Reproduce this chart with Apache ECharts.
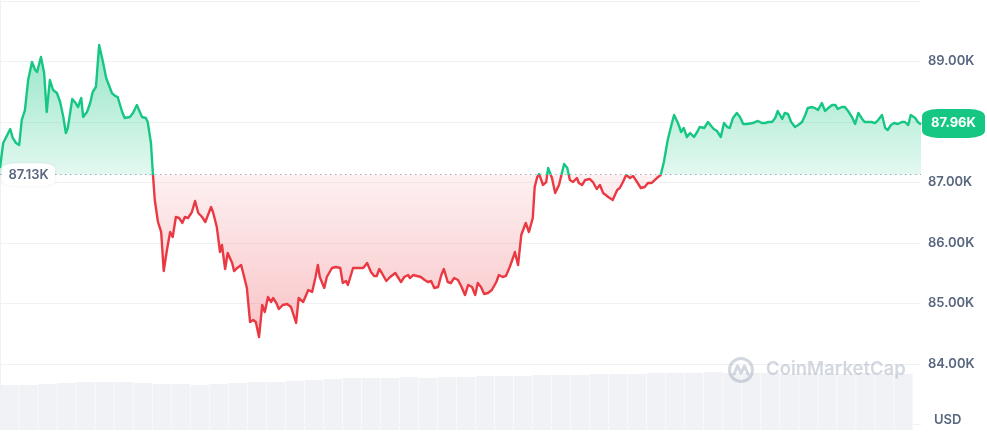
<!DOCTYPE html>
<html>
<head>
<meta charset="utf-8">
<script src="https://cdn.jsdelivr.net/npm/echarts@6/dist/echarts.min.js"></script>
<style>
html,body{margin:0;padding:0;background:#fff;}
#c{width:987px;height:433px;}
</style>
</head>
<body>
<div id="c"></div>
<script>
// minutes since start of the 24h window
const times = [
0,5,9,16,20,25,30,34,39,44,
50,55,58,64,69,73,78,83,89,94,
99,103,106,113,117,122,127,130,136,141,
145,150,155,161,166,169,175,180,184,191,
195,203,208,214,217,222,228,231,236,239,
242,247,252,256,261,266,270,275,280,285,
289,294,300,305,310,316,321,324,330,333,
339,344,347,352,356,363,366,371,377,381,
386,391,396,400,405,410,414,419,424,427,
432,436,442,449,455,458,463,467,474,478,
482,488,493,497,500,507,511,519,525,532,
536,541,544,552,563,568,574,580,585,589,
593,597,604,610,618,622,627,632,638,641,
646,652,658,664,669,674,679,685,690,694,
700,705,710,716,721,727,732,738,743,747,
752,757,763,769,776,780,786,791,797,802,
805,810,815,818,822,827,833,836,840,843,
849,854,857,863,868,874,882,887,891,896,
902,905,910,915,922,927,933,938,943,951,
958,965,969,974,979,985,990,996,1002,1008,
1013,1019,1027,1033,1038,1044,1051,1054,1060,1065,
1069,1074,1079,1085,1090,1094,1101,1107,1112,1116,
1121,1127,1132,1137,1141,1146,1152,1157,1162,1168,
1171,1177,1180,1185,1191,1196,1201,1207,1212,1216,
1223,1227,1232,1237,1243,1248,1254,1259,1263,1270,
1274,1279,1285,1290,1295,1301,1306,1310,1316,1321,
1326,1332,1337,1342,1348,1352,1357,1363,1368,1373,
1379,1384,1388,1393,1398,1404,1410,1415,1420,1424,
1431,1435,1440
];
// price in USD
const prices = [
87240,87653,87736,87884,87736,87653,87620,88033,88198,88694,
88992,88860,88826,89074,88810,88165,88694,88529,88479,88331,
88083,87818,87901,88380,88331,88248,88397,88083,88165,88314,
88496,88579,89273,88992,88727,88694,88479,88430,88413,88165,
88066,88083,88149,88281,88248,88083,88066,88000,87653,87157,
86711,86347,86182,85537,85884,86182,86099,86430,86413,86331,
86430,86413,86512,86694,86496,86430,86347,86331,86595,86512,
86264,85851,85967,85570,85835,85669,85537,85587,85636,85471,
85256,84694,84727,84694,84446,84975,84859,85107,85025,85091,
85008,84909,84975,84992,84942,84843,84678,85091,85025,85124,
85223,85190,85421,85636,85438,85256,85438,85587,85603,85587,
85339,85372,85306,85587,85587,85587,85669,85521,85455,85455,
85570,85504,85372,85438,85504,85438,85355,85438,85471,85421,
85471,85455,85438,85388,85355,85372,85256,85273,85471,85570,
85355,85339,85421,85388,85289,85140,85306,85273,85140,85339,
85273,85157,85174,85223,85355,85471,85438,85455,85603,85752,
85851,85636,86132,86099,86331,86182,86413,86926,87091,87140,
86959,87008,87240,87074,86826,86959,87306,87240,87041,87008,
87074,86992,86959,87041,87058,87008,86893,86959,86826,86760,
86711,86876,86909,87008,87124,87074,87107,87008,86909,86926,
86992,86992,87074,87124,87339,87702,88000,88116,87983,87835,
87901,87752,87818,87752,87835,87917,87901,88000,87934,87884,
87851,87752,87983,87917,87901,88066,88149,88083,87967,87967,
87934,87983,87967,88017,87983,87983,88000,88000,88066,88182,
88050,88149,88132,88000,87917,87950,88000,88116,88231,88248,
88231,88198,88314,88182,88231,88281,88281,88215,88248,88248,
88182,88083,87967,88149,88050,88000,88000,88000,87983,88033,
88116,87901,87868,87950,87983,87967,88000,88000,87950,88116,
88066,88000,87960
];
const openPrice = 87130;
const lastPrice = 87960;
const yTicks = [83000, 84000, 85000, 86000, 87000, 88000, 89000, 90000];
// relative trading volume per 30-minute bucket
const volumes = [
45,45,46,47,48,48,48,47,46,46,
45,46,47,48,48,49,50,51,52,52,
52,53,52,53,53,54,54,54,55,55,
55,56,56,56,57,57,57,58,57,57,
57,56,57,56,56,57,56,56
];

const GREEN = '#16c784', RED = '#ea3943', TXT = '#58667e', GRIDC = '#eff2f5';
const WM = 'rgba(150,162,182,0.42)';
const fmtK = v => (v / 1000).toFixed(2) + 'K';

const lineData = times.map((t, i) => [t, prices[i]]);
const upData = times.map((t, i) => [t, Math.max(prices[i], openPrice)]);
const downData = times.map((t, i) => [t, Math.min(prices[i], openPrice)]);

const chart = echarts.init(document.getElementById('c'), null, {renderer: 'canvas'});
chart.setOption({
  animation: false,
  backgroundColor: '#fff',
  textStyle: {fontFamily: 'Inter, "Noto Sans", sans-serif'},
  grid: [
    {left: 0, right: 66, top: 1, bottom: 8.5},
    {left: 0, right: 74, top: 365, bottom: 3}
  ],
  xAxis: [
    {type: 'value', gridIndex: 0, min: 0, max: 1440, show: false},
    {type: 'category', gridIndex: 1, show: false, data: volumes.map((v, i) => i)}
  ],
  yAxis: [
    {
      type: 'value', gridIndex: 0, position: 'right',
      min: yTicks[0], max: yTicks[yTicks.length - 1], interval: 1000,
      axisLine: {show: true, lineStyle: {color: GRIDC, width: 1}},
      axisTick: {show: false},
      splitLine: {show: true, lineStyle: {color: GRIDC, width: 1}},
      axisLabel: {
        show: true, showMinLabel: false, showMaxLabel: false,
        color: TXT, fontSize: 13, fontWeight: 600, margin: 7,
        fontFamily: 'Inter, sans-serif',
        formatter: fmtK
      }
    },
    {type: 'value', gridIndex: 1, show: false, min: 0, max: 65}
  ],
  series: [
    {
      type: 'bar', name: 'volume', xAxisIndex: 1, yAxisIndex: 1,
      data: volumes, barCategoryGap: '3%', silent: true, z: 0,
      itemStyle: {color: '#f0f2f5'}
    },
    {
      type: 'line', name: 'up', xAxisIndex: 0, yAxisIndex: 0,
      data: upData, symbol: 'none', silent: true, z: 1,
      lineStyle: {width: 0, opacity: 0},
      itemStyle: {color: GREEN},
      areaStyle: {
        origin: openPrice, opacity: 1,
        color: new echarts.graphic.LinearGradient(0, 0, 0, 1, [
          {offset: 0, color: 'rgba(22,199,132,0.45)'},
          {offset: 1, color: 'rgba(22,199,132,0.12)'}
        ])
      }
    },
    {
      type: 'line', name: 'down', xAxisIndex: 0, yAxisIndex: 0,
      data: downData, symbol: 'none', silent: true, z: 1,
      lineStyle: {width: 0, opacity: 0},
      itemStyle: {color: RED},
      areaStyle: {
        origin: openPrice, opacity: 1,
        color: new echarts.graphic.LinearGradient(0, 0, 0, 1, [
          {offset: 0, color: 'rgba(234,57,67,0.07)'},
          {offset: 1, color: 'rgba(234,57,67,0.30)'}
        ])
      }
    },
    {
      type: 'line', name: 'price', xAxisIndex: 0, yAxisIndex: 0,
      data: lineData, symbol: 'none', z: 3,
      lineStyle: {width: 2.4, color: GREEN, join: 'round'},
      itemStyle: {color: GREEN},
      markLine: {
        silent: true, symbol: 'none', label: {show: false},
        lineStyle: {type: [1.5, 3.5], color: '#a3a9b8', width: 1},
        data: [{yAxis: openPrice}]
      },
      markPoint: {
        silent: true, z: 10,
        data: [
          {
            coord: [0, openPrice], symbol: 'roundRect', symbolSize: [53, 23], symbolOffset: [28.5, 0],
            itemStyle: {color: '#ffffff', shadowBlur: 3, shadowColor: 'rgba(88,102,126,0.12)'},
            label: {show: true, formatter: fmtK(openPrice), color: TXT, fontSize: 13, fontWeight: 600, fontFamily: 'Inter, sans-serif'}
          },
          {
            coord: [1440, lastPrice], symbol: 'roundRect', symbolSize: [63, 29], symbolOffset: [32.5, -1],
            itemStyle: {color: GREEN},
            label: {show: true, formatter: fmtK(lastPrice), color: '#ffffff', fontSize: 13, fontWeight: 700, fontFamily: 'Inter, sans-serif'}
          }
        ]
      }
    }
  ],
  graphic: [
    {
      type: 'text', left: 934, top: 414, z: 20,
      style: {text: 'USD', fill: TXT, font: '600 13px Inter, sans-serif'}
    },
    {type: 'circle', z: 100, shape: {cx: 741, cy: 370, r: 11.5}, style: {fill: 'none', stroke: WM, lineWidth: 3}},
    {type: 'polyline', z: 100, shape: {points: [[734, 374], [737.5, 366], [741, 373], [744.5, 366], [748, 374]]}, style: {fill: 'none', stroke: WM, lineWidth: 3, lineJoin: 'round', lineCap: 'round'}},
    {type: 'text', z: 100, x: 766, y: 360, style: {text: 'CoinMarketCap', fill: WM, font: '600 18.5px Inter, sans-serif'}}
  ]
});

// split the price line colour at the opening price, using the axis scale
const yBase = chart.convertToPixel({yAxisIndex: 0}, openPrice);
const H = chart.getHeight();
const f = yBase / H;
chart.setOption({
  series: [{}, {}, {}, {
    lineStyle: {
      color: new echarts.graphic.LinearGradient(0, 0, 0, H, [
        {offset: 0, color: GREEN},
        {offset: f, color: GREEN},
        {offset: f, color: RED},
        {offset: 1, color: RED}
      ], true)
    }
  }]
});
</script>
</body>
</html>
